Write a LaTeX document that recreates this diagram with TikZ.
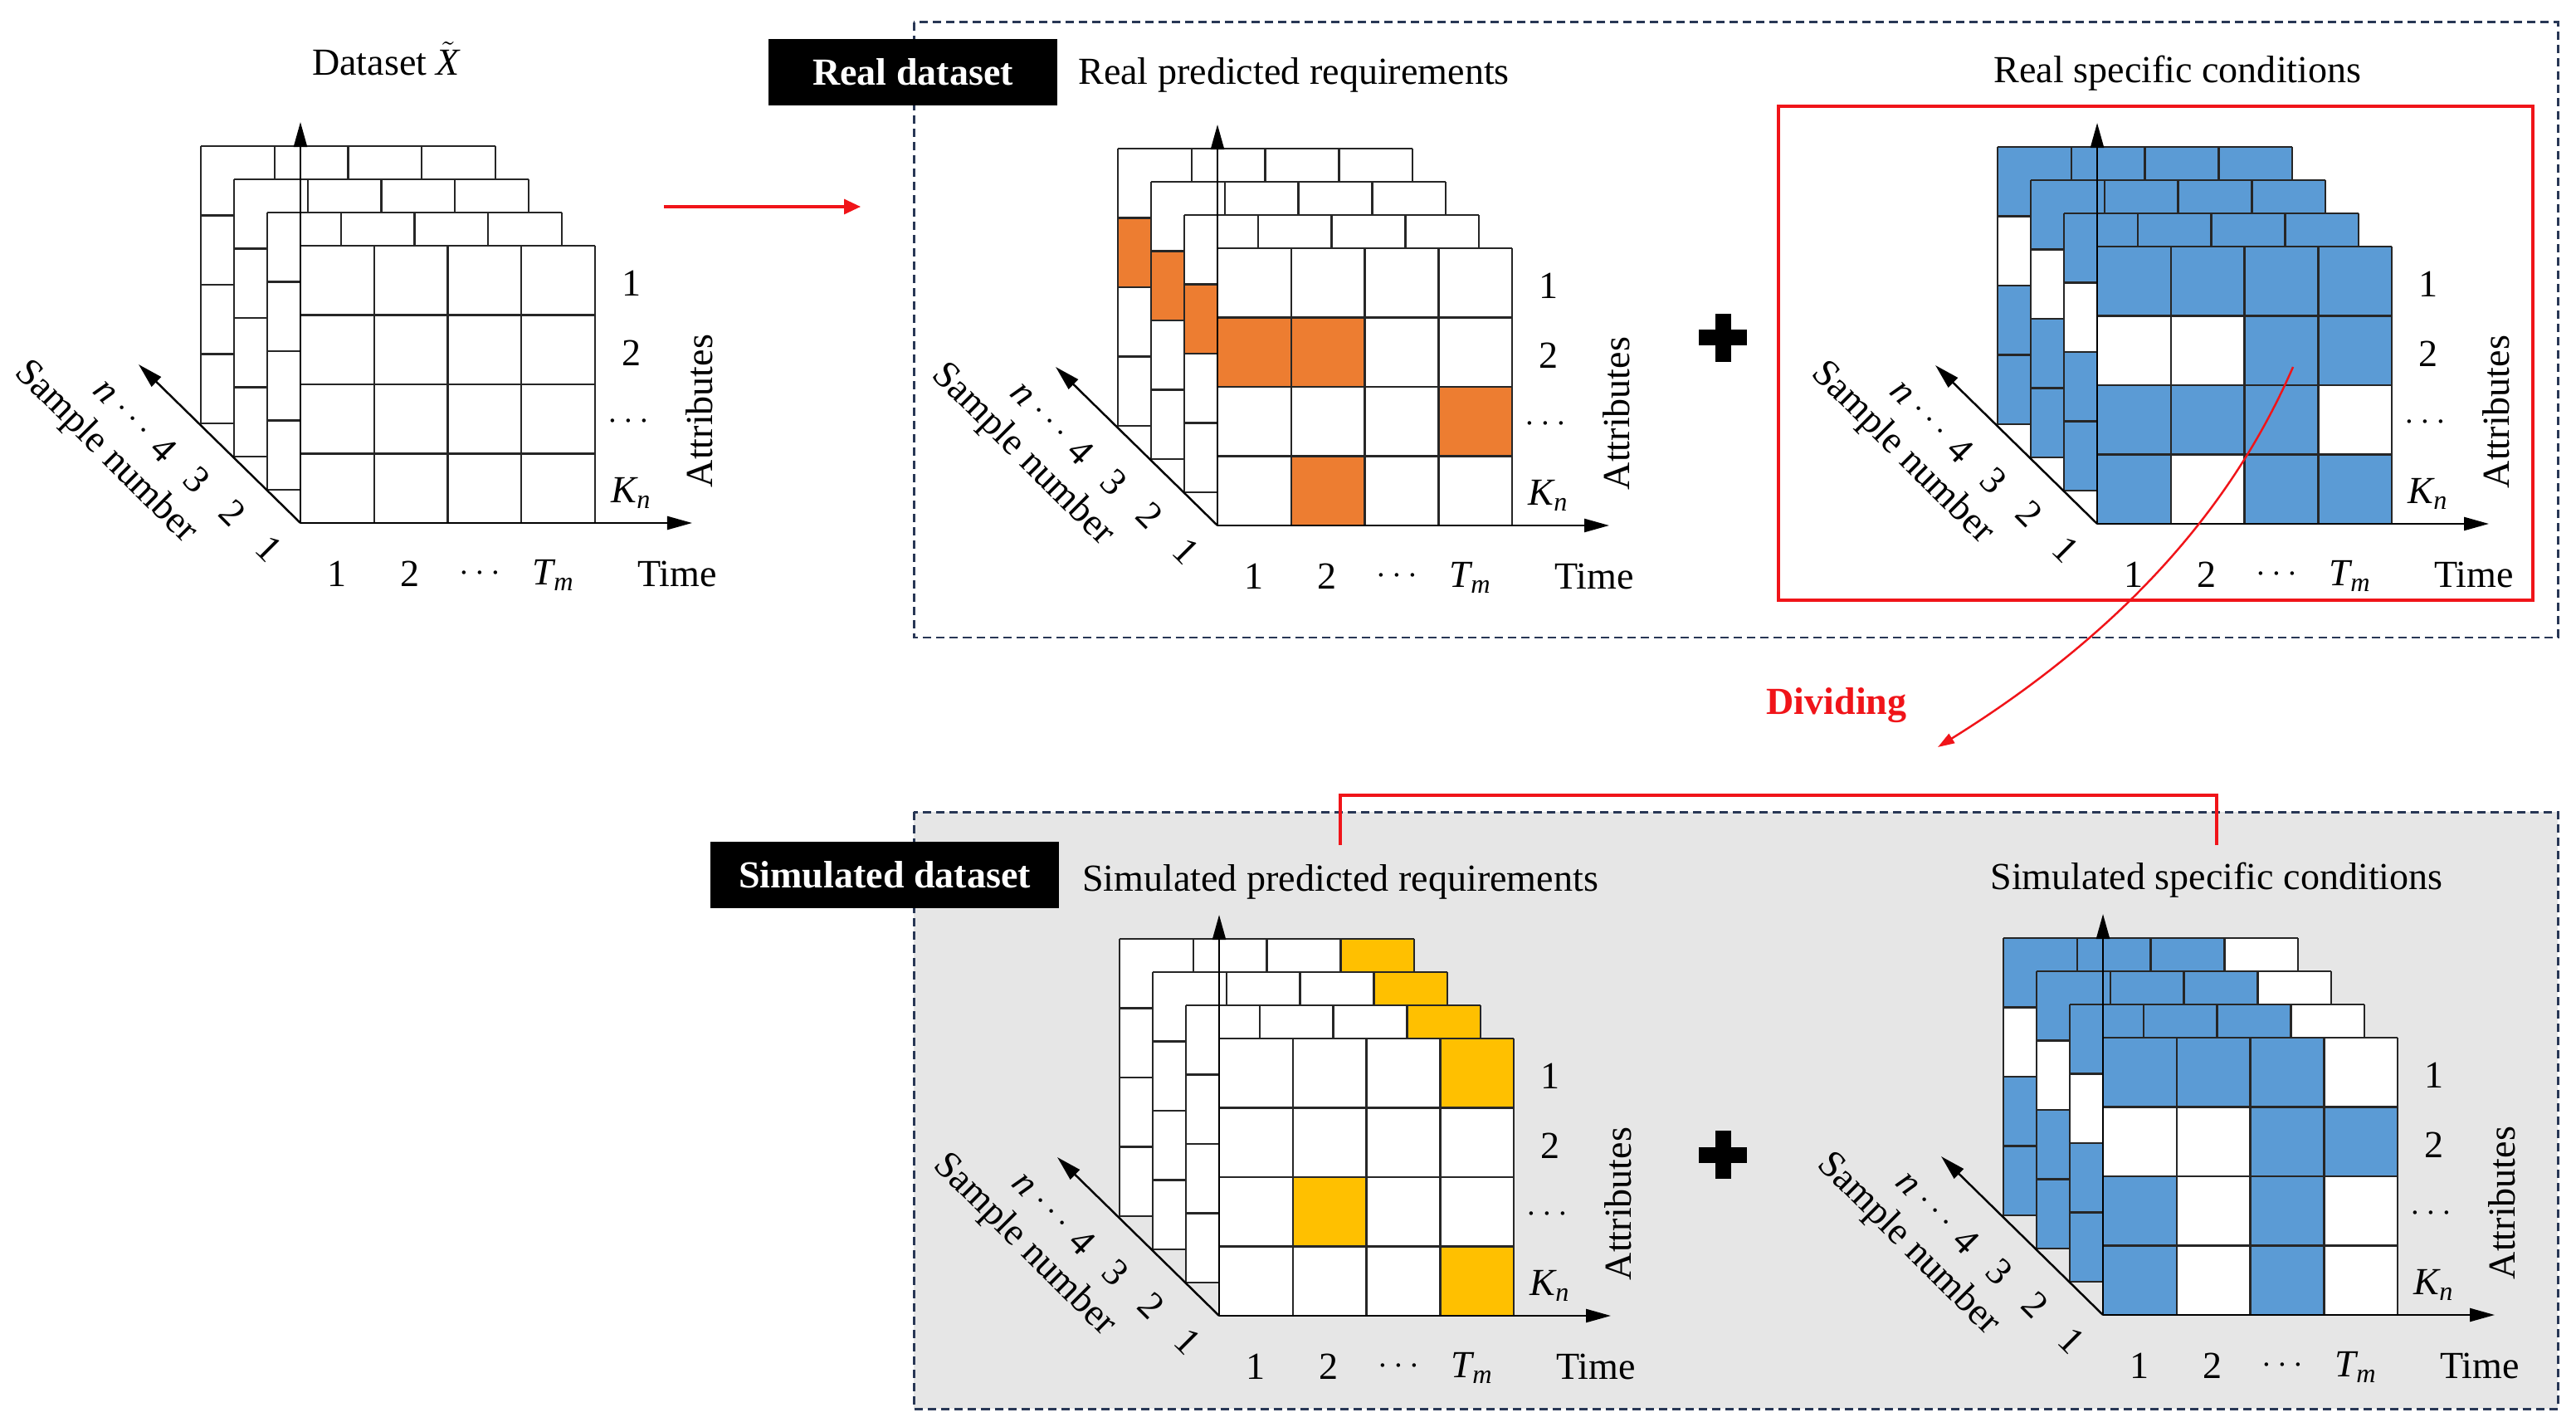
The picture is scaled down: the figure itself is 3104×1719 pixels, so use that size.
\documentclass[tikz,border=0pt]{standalone}
\usepackage{fontspec}
\usepackage{amsmath}
\setmainfont{Liberation Serif}
\usetikzlibrary{arrows.meta}
\definecolor{cblue}{HTML}{5B9BD5}
\definecolor{corange}{HTML}{ED7D31}
\definecolor{cyellow}{HTML}{FFC000}
\definecolor{dashc}{RGB}{40,55,85}
\definecolor{simgray}{HTML}{E6E6E6}
\definecolor{cred}{RGB}{240,20,25}
\definecolor{gridc}{HTML}{262626}
\tikzset{
  gridline/.style={draw=gridc, line width=0.7pt},
  axisline/.style={draw=black, line width=0.7pt, -{Triangle[length=0.30cm,width=0.16cm]}},
  lbl/.style={font=\fontsize{13.1}{15}\selectfont, inner sep=0pt},
  titletext/.style={lbl},
  blackbox/.style={fill=black, text=white, font=\fontsize{13.1}{15}\selectfont\bfseries, minimum height=0.80cm, inner sep=0pt},
  dashbox/.style={draw=dashc, line width=0.85pt, dash pattern=on 0.1cm off 0.06cm},
  redline/.style={draw=cred, line width=0.9pt},
}
\newcommand\datacube[5]{%
\begin{scope}[shift={(#2,#3)}]
  \foreach \lay in {3,2,1,0}{
    \begin{scope}[shift={(-40*\lay,-40*\lay)}]
      \fill[white] (0,0) rectangle (355,-334);
      \foreach \rowi/\coli in {#5}{
        \fill[#4] ({(\coli-1)*88.75},{-334+(\rowi-1)*83.5}) rectangle ++(88.75,83.5);
      }
      \foreach \i in {0,...,4}{
        \draw[gridline] ({\i*88.75},0) -- ({\i*88.75},-334);
        \draw[gridline] (0,{-\i*83.5}) -- (355,{-\i*83.5});
      }
    \end{scope}
  }
  \coordinate (#1-o) at (0,0);
  \coordinate (#1-up) at (0,-483);
  \coordinate (#1-right) at (472,0);
  \coordinate (#1-diag) at (-195,-191);
  \draw[axisline] (#1-o) -- (#1-up);
  \draw[axisline] (#1-o) -- (#1-right);
  \draw[axisline] (#1-o) -- (#1-diag);
  \node[lbl] (#1-a1) at (399,-289) {1};
  \node[lbl] (#1-a2) at (399,-205) {2};
  \node[lbl] (#1-a3) at (399,-122) {$\cdots$};
  \node[lbl] (#1-a4) at (399,-36) {$\textit{K}_{\textit{n}}$};
  \node[lbl, rotate=90] (#1-attr) at (481,-135) {Attributes};
  \node[lbl] (#1-t1) at (44,61) {1};
  \node[lbl] (#1-t2) at (132,61) {2};
  \node[lbl] (#1-t3) at (220,61) {$\cdots$};
  \node[lbl] (#1-t4) at (305,63) {$\textit{T}_{\textit{m}}$};
  \node[lbl] (#1-time) at (454,61) {Time};
  \node[lbl, rotate=-45] (#1-s1) at (-38,31) {1};
  \node[lbl, rotate=-45] (#1-s2) at (-82,-12) {2};
  \node[lbl, rotate=-45] (#1-s3) at (-125,-52) {3};
  \node[lbl, rotate=-45] (#1-s4) at (-165,-89) {4};
  \node[lbl, rotate=-45] (#1-s5) at (-200,-122) {$\cdots$};
  \node[lbl, rotate=-45] (#1-s6) at (-236,-157) {\textit{n}};
  \node[lbl, rotate=-45] (#1-sn) at (-235,-85) {Sample number};
\end{scope}}
\newcommand\plussign[2]{%
  \fill[black] ({#1-29},{#2-9.5}) rectangle ({#1+29},{#2+9.5});
  \fill[black] ({#1-9.5},{#2-29}) rectangle ({#1+9.5},{#2+29});
}
\begin{document}
\begin{tikzpicture}[x=0.01cm, y=-0.01cm]
\useasboundingbox (0,0) rectangle (3104,1719);
\fill[white] (0,0) rectangle (3104,1719);
% group boxes
\draw[dashbox] (1101,27) rectangle (3082,768);
\fill[simgray] (1101,978) rectangle (3082,1697);
\draw[dashbox] (1101,978) rectangle (3082,1697);
\draw[redline] (2143,128) rectangle (3052,723);
% cubes
\datacube{c1}{362}{630}{white}{1/1}
\datacube{c2}{1467}{633}{corange}{2/1,2/2,3/4,4/2}
\datacube{c3}{2527}{631}{cblue}{1/1,1/2,1/3,1/4,2/3,2/4,3/1,3/2,3/3,4/1,4/3,4/4}
\datacube{c4}{1469}{1585}{cyellow}{1/4,3/2,4/4}
\datacube{c5}{2534}{1584}{cblue}{1/1,1/2,1/3,2/3,2/4,3/1,3/3,4/1,4/3}
% titles
\node[titletext] (dstitle) at (465,71) {Dataset $\tilde{\textit{X}}$};
\node[blackbox, minimum width=3.48cm] (realbox) at (1100,87) {Real dataset};
\node[blackbox, minimum width=4.20cm] (simbox) at (1066,1054) {Simulated dataset};
\node[titletext] (realpred) at (1559,90) {Real predicted requirements};
\node[titletext] (realcond) at (2624,88) {Real specific conditions};
\node[titletext] (simpred) at (1615,1062) {Simulated predicted requirements};
\node[titletext] (simcond) at (2671,1060) {Simulated specific conditions};
% plus signs
\plussign{2076}{407}
\plussign{2076}{1391}
% red arrow
\coordinate (arrA) at (800,249);
\coordinate (arrB) at (1037,249);
\draw[redline, -{Triangle[length=0.2cm,width=0.18cm]}] (arrA) -- (arrB);
% dividing arrow
\coordinate (divA) at (2763,442);
\coordinate (divB) at (2335,900);
\draw[redline, line width=0.7pt, -{Triangle[length=0.2cm,width=0.13cm]}] (divA) .. controls (2690,610) and (2560,760) .. (divB);
\node[lbl, text=cred, font=\fontsize{13.1}{15}\selectfont\bfseries] (divlbl) at (2213,850) {Dividing};
% bracket
\coordinate (brlow) at (0,1018);
\coordinate (brhigh) at (0,958);
\draw[redline] (simpred.north |- brlow) -- (simpred.north |- brhigh) -- (simcond.north |- brhigh) -- (simcond.north |- brlow);
\end{tikzpicture}
\end{document}
